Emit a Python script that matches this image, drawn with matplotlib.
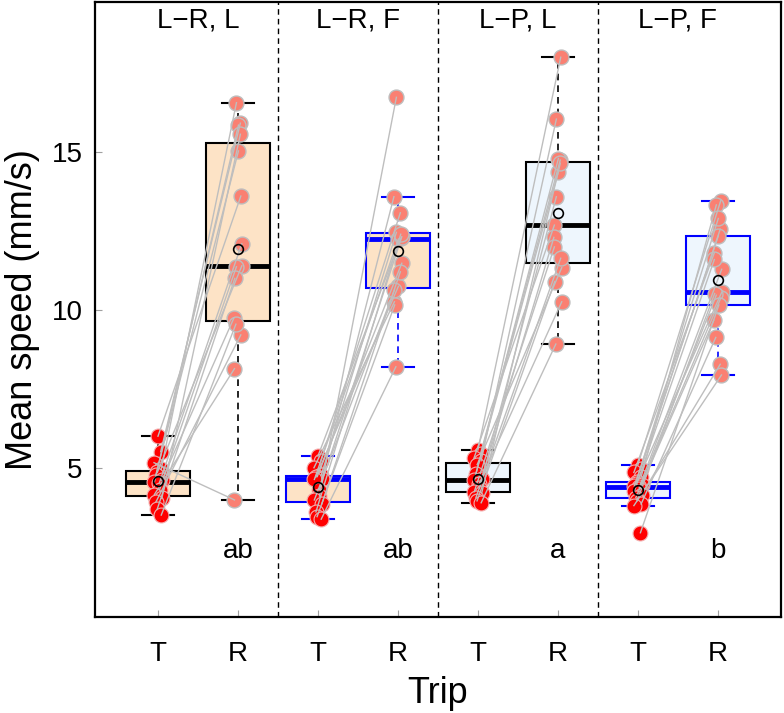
import numpy as np
import matplotlib
matplotlib.use("Agg")
import matplotlib.pyplot as plt

plt.rcParams['font.family'] = ['Liberation Sans', 'DejaVu Sans']

# ---------------- data ----------------
panel_titles = ["L\u2212R, L", "L\u2212R, F", "L\u2212P, L", "L\u2212P, F"]
sig_letters = ["ab", "ab", "a", "b"]
trip_labels = ["T", "R"]

T1 = [6.00, 5.51, 5.16, 4.95, 4.85, 4.77, 4.60, 4.55, 4.52, 4.30, 4.15, 4.03, 3.92, 3.68, 3.50]
R1 = [13.61, 15.92, 3.98, 16.57, 11.40, 15.04, 9.75, 15.86, 12.10, 11.37, 8.14, 15.57, 9.21, 11.00, 9.55]

T2 = [5.37, 5.20, 5.00, 4.76, 4.72, 4.70, 4.65, 4.63, 4.30, 4.10, 3.98, 3.85, 3.60, 3.45, 3.37]
R2 = [12.27, 13.08, 10.26, 12.46, 11.48, 10.75, 13.59, 12.25, 12.32, 16.74, 10.63, 11.21, 12.40, 10.16, 8.20]

T3 = [5.56, 5.45, 5.30, 5.22, 5.10, 4.80, 4.65, 4.61, 4.50, 4.35, 4.24, 4.20, 4.05, 3.95, 3.89]
R3 = [18.01, 14.75, 12.69, 16.05, 11.34, 14.38, 12.30, 14.80, 10.26, 13.59, 12.00, 14.65, 11.64, 10.90, 8.92]

T4 = [5.09, 4.95, 4.85, 4.70, 4.56, 4.50, 4.46, 4.42, 4.38, 4.32, 4.25, 4.15, 4.05, 3.95, 3.85, 3.80, 2.94]
R4 = [13.46, 12.56, 11.81, 13.33, 10.56, 12.90, 9.68, 12.35, 11.29, 10.47, 11.60, 8.28, 10.37, 10.52, 9.13, 7.94, 10.16]

panels = [(T1, R1), (T2, R2), (T3, R3), (T4, R4)]

# styles
fills = ["#FDE3C6", "#FDE3C6", "#EEF6FD", "#EEF6FD"]
edges = ["black", "#0000FF", "black", "#0000FF"]


def fivenum(x):
    x = np.sort(np.asarray(x, float))
    n = len(x)
    n4 = np.floor((n + 3) / 2) / 2
    d = np.array([1, n4, (n + 1) / 2, n + 1 - n4, n]) - 1
    return 0.5 * (x[np.floor(d).astype(int)] + x[np.ceil(d).astype(int)])


def rstats(x):
    x = np.asarray(x, float)
    s = fivenum(x)
    iqr = s[3] - s[1]
    inside = x[(x >= s[1] - 1.5 * iqr) & (x <= s[3] + 1.5 * iqr)]
    return dict(med=s[2], q1=s[1], q3=s[3], whislo=inside.min(),
                whishi=inside.max(), mean=x.mean(), fliers=[])


fig = plt.figure(figsize=(7.84, 7.13), dpi=100)
ax = fig.add_axes([95 / 784, 1 - 617 / 713, (781 - 95) / 784, (617 - 2) / 713])

dash = (0, (4, 3))
for i, (T, R) in enumerate(panels):
    pos = [2 * i + 1, 2 * i + 2]
    st = [rstats(T), rstats(R)]
    ec = edges[i]
    ax.bxp(st, positions=pos, widths=0.8, patch_artist=True,
           showmeans=False, showfliers=False, manage_ticks=False,
           boxprops=dict(facecolor=fills[i], edgecolor=ec, linewidth=1.5),
           medianprops=dict(color=ec, linewidth=3.5, solid_capstyle='butt'),
           whiskerprops=dict(color=ec, linewidth=1.2, linestyle=dash),
           capprops=dict(color=ec, linewidth=1.5),
           capwidths=0.4, zorder=1)

    n = len(T)
    jit = 0.05 * np.sin(np.arange(n) * 2.4)
    jit2 = 0.05 * np.sin(np.arange(n) * 1.7 + 0.8)
    xt = pos[0] + jit
    xr = pos[1] + jit2
    ax.scatter(xt, T, s=115, color="#FF0000", edgecolors="#F3B0B0",
               linewidths=0.8, zorder=3)
    ax.scatter(xr, R, s=115, color="#FA8072", edgecolors="#BEBEBE",
               linewidths=1.0, zorder=3)
    for k in range(n):
        ax.plot([xt[k], xr[k]], [T[k], R[k]], color="#BEBEBE", lw=1.0, zorder=4)
    ax.plot(pos, [st[0]['mean'], st[1]['mean']], linestyle='none', marker='o',
            markersize=7, markerfacecolor='none', markeredgecolor='black',
            markeredgewidth=1.2, zorder=5)

    ax.text(2 * i + 1.5, 0.958, panel_titles[i], transform=ax.get_xaxis_transform(),
            ha='center', va='baseline', fontsize=20)
    ax.text(2 * i + 2, 2.13, sig_letters[i], ha='center', va='baseline', fontsize=20)

for xv in [2.5, 4.5, 6.5]:
    ax.axvline(xv, color='black', lw=1.0, linestyle=dash, zorder=0)

ax.set_xlim(0.2125, 8.79)
ax.set_ylim(0.27, 19.76)
ax.set_xticks(np.arange(1, 9))
ax.set_xticklabels(trip_labels * 4)
ax.set_yticks([5, 10, 15])
ax.tick_params(axis='both', direction='in', length=5, width=0.8, color='#A0A0A0',
               labelsize=20)
ax.tick_params(axis='x', pad=17)
ax.tick_params(axis='y', pad=9)
for sp in ax.spines.values():
    sp.set_linewidth(1.6)
ax.set_xlabel("Trip", fontsize=26, labelpad=7)
ax.set_ylabel("Mean speed (mm/s)", fontsize=26, labelpad=8)

fig.savefig("out.png", dpi=100)
